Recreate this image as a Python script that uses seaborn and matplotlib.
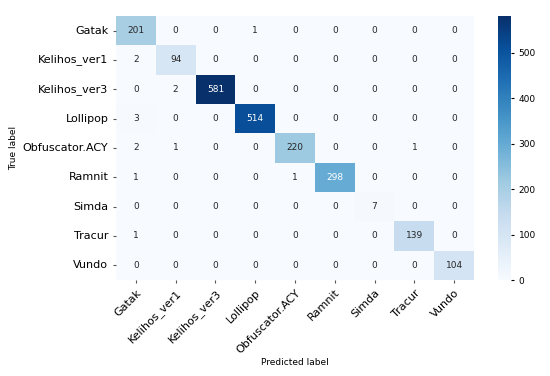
import numpy as np
import pandas as pd
import matplotlib
matplotlib.use("Agg")
import matplotlib.pyplot as plt
import seaborn as sns

# class names (rows = true label, columns = predicted label)
labels = ["Gatak", "Kelihos_ver1", "Kelihos_ver3", "Lollipop", "Obfuscator.ACY",
          "Ramnit", "Simda", "Tracur", "Vundo"]

# confusion matrix counts, one list per true class
row_gatak = [201, 0, 0, 1, 0, 0, 0, 0, 0]
row_kelihos1 = [2, 94, 0, 0, 0, 0, 0, 0, 0]
row_kelihos3 = [0, 2, 581, 0, 0, 0, 0, 0, 0]
row_lollipop = [3, 0, 0, 514, 0, 0, 0, 0, 0]
row_obfuscator = [2, 1, 0, 0, 220, 0, 0, 1, 0]
row_ramnit = [1, 0, 0, 0, 1, 298, 0, 0, 0]
row_simda = [0, 0, 0, 0, 0, 0, 7, 0, 0]
row_tracur = [1, 0, 0, 0, 0, 0, 0, 139, 0]
row_vundo = [0, 0, 0, 0, 0, 0, 0, 0, 104]

cm = pd.DataFrame([row_gatak, row_kelihos1, row_kelihos3, row_lollipop, row_obfuscator,
                   row_ramnit, row_simda, row_tracur, row_vundo],
                  index=labels, columns=labels)

fig = plt.figure(figsize=(5.5, 3.76), dpi=100)
ax = fig.add_axes([116 / 550, 1 - 280 / 376, 358 / 550, 264 / 376])
cax = fig.add_axes([498 / 550, 1 - 280 / 376, 13 / 550, 264 / 376])

sns.heatmap(cm, annot=True, fmt="d", cmap="Blues", ax=ax, cbar_ax=cax,
            annot_kws={"size": 6.5})

ax.set_xticklabels(labels, rotation=45, ha="right", rotation_mode="anchor", fontsize=8)
ax.set_yticklabels(labels, rotation=0, fontsize=8)
ax.tick_params(axis="both", length=2, color="#555555")
ax.set_xlabel("Predicted label", fontsize=6.5)
ax.set_ylabel("True label", fontsize=6.5)
ax.xaxis.set_label_coords(0.5, -0.295)
ax.yaxis.set_label_coords(-0.274, 0.5)

cax.tick_params(labelsize=6.5, length=2)
cax.set_yticks([0, 100, 200, 300, 400, 500])

fig.savefig("out.png", dpi=100)
